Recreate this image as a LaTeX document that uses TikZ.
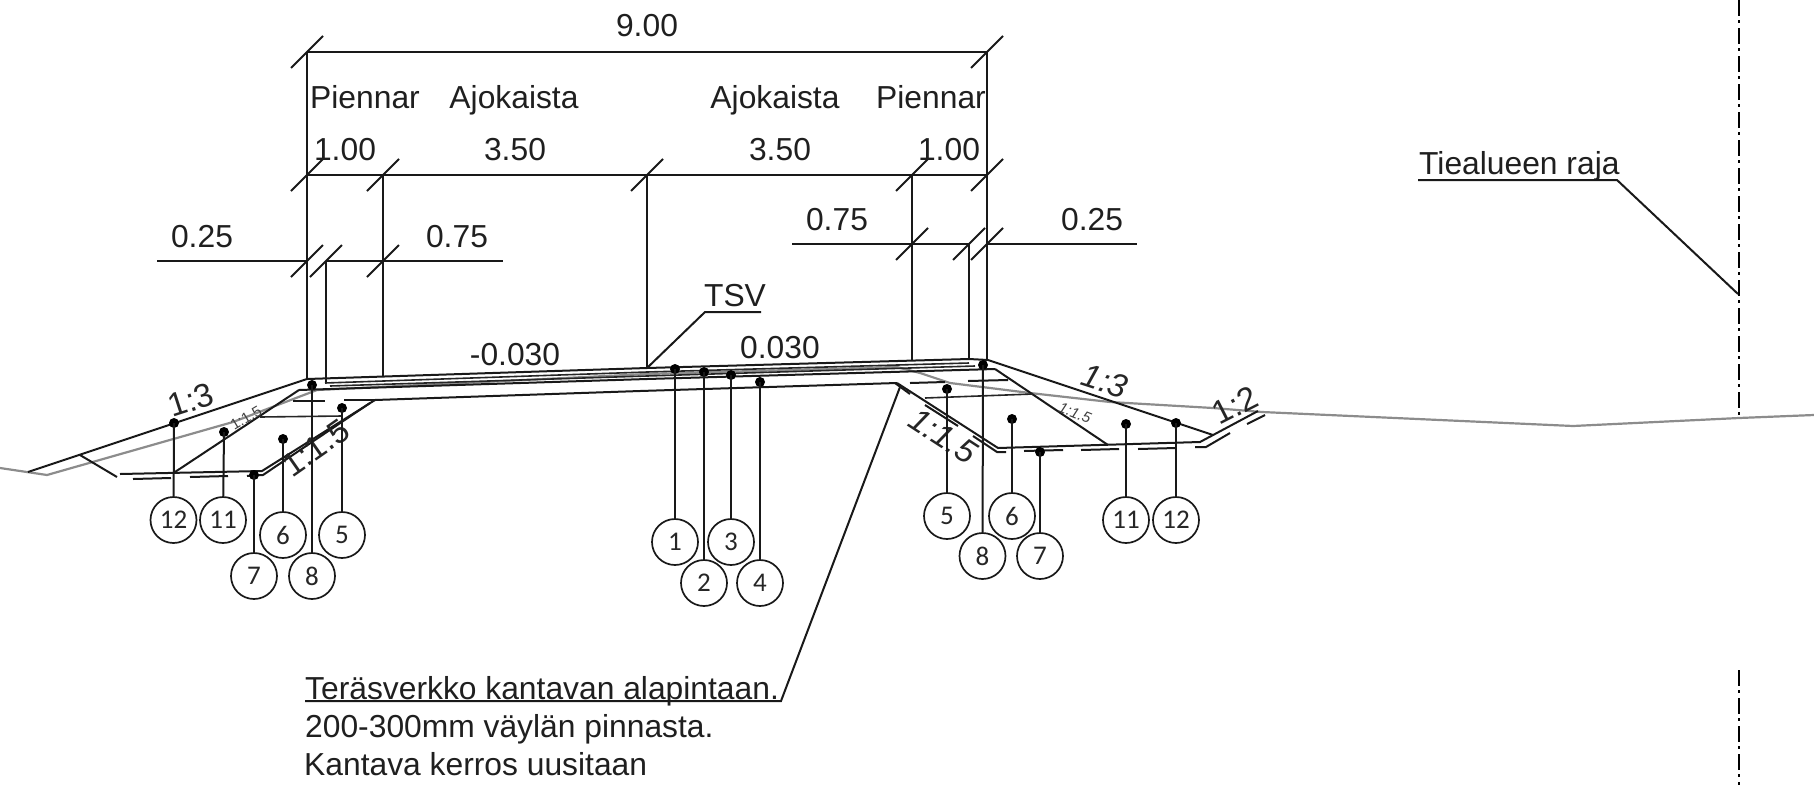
\documentclass[tikz,border=0pt]{standalone}
\usepackage{fontspec}
\setmainfont{Liberation Sans}
\newfontfamily\numfont{Carlito}
\tikzset{
  x=1pt,y=-1pt,
  ln/.style={line width=2pt,black!90,line cap=butt,line join=miter},
  thin line/.style={line width=1.6pt,black!85},
  grnd/.style={line width=2.2pt,black!45},
  lbl/.style={inner sep=0,anchor=base,font=\fontsize{31.8}{36}\selectfont,text=black!88},
  lblw/.style={lbl,anchor=base west},
  slope/.style={inner sep=0,font=\fontsize{33}{36}\selectfont,text=black!85},
  slopeit/.style={slope,font=\fontsize{33}{36}\selectfont\itshape},
  small slope/.style={inner sep=0,font=\fontsize{15}{18}\selectfont,text=black!75},
  small slopeit/.style={small slope,font=\fontsize{15}{18}\selectfont\itshape},
  num/.style={circle,draw=black!90,line width=1.7pt,minimum size=46pt,inner sep=0,fill=white,font=\fontsize{27}{30}\numfont,text=black!85},
  dotm/.style={circle,fill=black,inner sep=0,minimum size=10pt},
  cl/.style={line width=1.8pt,black,dash pattern=on 16pt off 4pt on 3pt off 5pt},
}
\newcommand{\tick}[1]{\draw[ln] ([shift={(-16,16)}]#1) -- ([shift={(16,-16)}]#1);}
\begin{document}
\begin{tikzpicture}
\useasboundingbox (0,0) rectangle (1814,785);
% ground
\draw[grnd] (0,468) -- (47,475) -- (233,422) -- (317,390) -- (647,374) -- (897,367) -- (920,373) -- (950,383) -- (1030,393) -- (1110,402) -- (1213,408) -- (1262,412) -- (1573,426) -- (1739,418) -- (1814,415);
% road layers
\draw[ln] (307,379) -- (647,368) -- (969,359) -- (988,360);
\draw[thin line] (325,383) -- (647,372) -- (969,363);
\draw[thin line] (330,386) -- (647,376) -- (975,366);
\draw[ln] (299,390) -- (647,379) -- (995,369);
\draw[ln] (375,400) -- (640,391) -- (897,383);
% left embankment
\draw[ln] (307,379) -- (28,472);
\draw[ln] (299,390) -- (175,472);
\draw[ln] (120,474) -- (262,471) -- (375,400);
\draw[ln] (80,455) -- (117,477);
\draw[ln] (133,479) -- (171,478) (190,477) -- (228,476) (247,476) -- (263,475) -- (370,403);
\draw[ln] (293,401) -- (325,401) (344,400) -- (375,400);
\draw[thin line] (260,417) -- (342,416);
% right embankment
\draw[ln] (988,360) -- (1213,435);
\draw[ln] (995,369) -- (1108,445);
\draw[ln] (897,383) -- (998,448) -- (1200,442) -- (1258,411);
\draw[ln] (895,383) -- (910,394) (925,405) -- (958,426) (973,436) -- (997,452) -- (1006,452);
\draw[ln] (1024,451) -- (1063,450) (1081,450) -- (1119,449) (1138,449) -- (1176,448);
\draw[ln] (1195,447) -- (1206,447) -- (1230,433) (1247,424) -- (1265,415);
\draw[ln] (910,383) -- (945,382) (968,381) -- (1008,380);
\draw[thin line] (925,398) -- (1033,394);
% dimension points
\coordinate (dA) at (307,52); \coordinate (dB) at (987,52);
\coordinate (eA) at (307,175); \coordinate (eB) at (383,175); \coordinate (eC) at (647,175); \coordinate (eD) at (912,175); \coordinate (eE) at (987,175);
\coordinate (fL) at (157,261); \coordinate (fA) at (307,261); \coordinate (fB) at (326,261); \coordinate (fC) at (383,261); \coordinate (fR) at (503,261);
\coordinate (gL) at (792,244); \coordinate (gA) at (912,244); \coordinate (gB) at (969,244); \coordinate (gC) at (987,244); \coordinate (gR) at (1137,244);
\coordinate (rA) at (307,379); \coordinate (rB) at (326,382); \coordinate (rC) at (383,377); \coordinate (rD) at (647,368); \coordinate (rE) at (912,361); \coordinate (rF) at (969,360); \coordinate (rG) at (987,360);
\draw[ln] (dA) -- (dB) (eA) -- (eE) (fL) -- (fA) (fB) -- (fR) (gL) -- (gB) (gC) -- (gR);
\draw[ln] (dA) -- (rA) (dB) -- (rG) (eB) -- (rC) (eC) -- (rD) (eD) -- (rE) (fB) -- (rB) (gB) -- (rF);
\foreach \p in {dA,dB,eA,eB,eC,eD,eE,fA,fB,fC,gA,gB,gC}{\tick{\p}}
% dimension texts
\node[lbl] (t900) at (647,36) {9.00};
\node[lbl] (tp1) at (365,108) {Piennar};
\node[lbl] (ta1) at (514,108) {Ajokaista};
\node[lbl] (ta2) at (775,108) {Ajokaista};
\node[lbl] (tp2) at (931,108) {Piennar};
\node[lbl] (t100a) at (345,160) {1.00};
\node[lbl] (t350a) at (515,160) {3.50};
\node[lbl] (t350b) at (780,160) {3.50};
\node[lbl] (t100b) at (949,160) {1.00};
\node[lbl] (t25a) at (202,247) {0.25};
\node[lbl] (t75a) at (457,247) {0.75};
\node[lbl] (t75b) at (837,230) {0.75};
\node[lbl] (t25b) at (1092,230) {0.25};
\node[lbl] (s1) at (515,365) {-0.030};
\node[lbl] (s2) at (780,358) {0.030};
% slopes
\node[slope,rotate=18] (sl1) at (191,400) {1:3};
\node[small slope,rotate=31] (sl2) at (246,418) {1:1.5};
\node[slope,rotate=35] (sl3) at (316,448) {1:1.5};
\node[slopeit,rotate=-18] (sl4) at (1105,381) {1:3};
\node[small slopeit,rotate=-22] (sl5) at (1075,413) {1:1.5};
\node[slopeit,rotate=-33] (sl6) at (943,436) {1:1.5};
\node[slope,rotate=27] (sl7) at (1235,405) {1:2};
% TSV
\node[lbl] (tsv) at (735,306) {TSV};
\coordinate (tsvA) at (705,312); \coordinate (tsvB) at (761,312);
\draw[ln] (rD) -- (tsvA) -- (tsvB);
% mesh note
\node[lblw] (n1) at (305,699) {Teräsverkko kantavan alapintaan.};
\node[lblw] (n2) at (305,737) {200-300mm väylän pinnasta.};
\node[lblw] (n3) at (304,775) {Kantava kerros uusitaan};
\coordinate (mA) at (900,387); \coordinate (mB) at (781,701); \coordinate (mC) at (305,701);
\draw[ln] (mA) -- (mB) -- (mC);
% boundary
\node[lblw] (tr) at (1419,174) {Tiealueen raja};
\coordinate (bA) at (1418,180); \coordinate (bB) at (1617,180); \coordinate (bC) at (1738,294);
\coordinate (cT) at (1739,0); \coordinate (cM) at (1739,418); \coordinate (cN) at (1739,670); \coordinate (cE) at (1739,785);
\draw[ln] (bA) -- (bB) -- (bC);
\draw[cl] (cT) -- (cM);
\draw[cl] (cN) -- (cE);
% numbered leaders
\foreach \name/\lab/\cx/\cy/\dx/\dy in {
 a12/12/173.5/520/174/423, a11/11/223/520/224/432, a6/6/283/535/283/439, a5/5/342/535/342/408,
 a7/7/254/576/254/475, a8/8/312/576/312/385,
 c1/1/675/542/675/369, c2/2/704/583/704/372, c3/3/731/542/731/375, c4/4/760/583/760/382,
 b5/5/947/516/947/389, b6/6/1012/516/1012/419, b8/8/982.5/556/983/365, b7/7/1040/556/1040/452,
 b11/11/1126/520/1126/424, b12/12/1176/520/1176/423}{
  \node[num] (n\name) at (\cx,\cy) {\lab};
  \node[dotm] (d\name) at (\dx,\dy) {};
  \draw[ln] (d\name.center) -- (n\name);
}
\end{tikzpicture}
\end{document}
